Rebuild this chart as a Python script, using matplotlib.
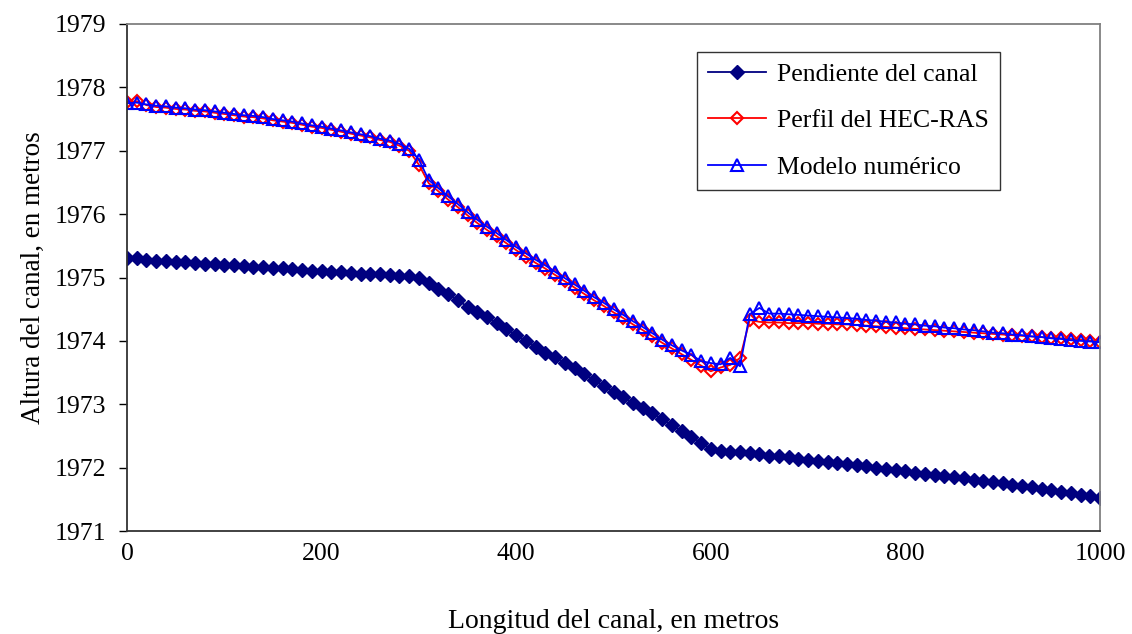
import numpy as np
import matplotlib
matplotlib.use("Agg")
import matplotlib.pyplot as plt

# Stations along the channel (m)
distancia = np.arange(0, 1001, 10)

# Channel bed elevation (m)
pendiente = [
    1975.30, 1975.31, 1975.27, 1975.26, 1975.26, 1975.24, 1975.24, 1975.23, 1975.21, 1975.21,
    1975.20, 1975.20, 1975.18, 1975.17, 1975.17, 1975.15, 1975.15, 1975.14, 1975.12, 1975.11,
    1975.10, 1975.08, 1975.08, 1975.07, 1975.06, 1975.06, 1975.05, 1975.04, 1975.03, 1975.02,
    1975.00, 1974.92, 1974.82, 1974.74, 1974.64, 1974.54, 1974.45, 1974.37, 1974.28, 1974.19,
    1974.09, 1974.00, 1973.91, 1973.81, 1973.74, 1973.65, 1973.57, 1973.48, 1973.38, 1973.29,
    1973.20, 1973.11, 1973.02, 1972.94, 1972.86, 1972.76, 1972.67, 1972.58, 1972.49, 1972.39,
    1972.30, 1972.26, 1972.25, 1972.24, 1972.23, 1972.21, 1972.19, 1972.18, 1972.16, 1972.14,
    1972.12, 1972.11, 1972.09, 1972.07, 1972.06, 1972.04, 1972.02, 1972.00, 1971.98, 1971.96,
    1971.94, 1971.92, 1971.90, 1971.88, 1971.87, 1971.85, 1971.83, 1971.81, 1971.79, 1971.77,
    1971.75, 1971.73, 1971.71, 1971.69, 1971.67, 1971.65, 1971.62, 1971.60, 1971.57, 1971.55,
    1971.52,
]

# Water surface profile from HEC-RAS (m)
hec_ras = [
    1977.77, 1977.78, 1977.72, 1977.69, 1977.68, 1977.66, 1977.65, 1977.63, 1977.62, 1977.60,
    1977.58, 1977.56, 1977.54, 1977.53, 1977.51, 1977.48, 1977.46, 1977.44, 1977.41, 1977.38,
    1977.36, 1977.33, 1977.30, 1977.27, 1977.24, 1977.21, 1977.17, 1977.14, 1977.08, 1977.00,
    1976.78, 1976.49, 1976.36, 1976.23, 1976.11, 1975.98, 1975.86, 1975.75, 1975.65, 1975.54,
    1975.43, 1975.33, 1975.23, 1975.14, 1975.04, 1974.94, 1974.84, 1974.74, 1974.64, 1974.55,
    1974.45, 1974.36, 1974.26, 1974.17, 1974.07, 1973.97, 1973.88, 1973.79, 1973.70, 1973.61,
    1973.52, 1973.58, 1973.62, 1973.73, 1974.33, 1974.30, 1974.29, 1974.29, 1974.28, 1974.28,
    1974.28, 1974.27, 1974.27, 1974.26, 1974.26, 1974.25, 1974.24, 1974.23, 1974.22, 1974.21,
    1974.20, 1974.19, 1974.18, 1974.17, 1974.16, 1974.15, 1974.14, 1974.13, 1974.12, 1974.11,
    1974.10, 1974.09, 1974.08, 1974.07, 1974.06, 1974.05, 1974.04, 1974.03, 1974.02, 1974.00,
    1973.99,
]

# Water surface from the numerical model (m)
modelo = [
    1977.75, 1977.76, 1977.73, 1977.71, 1977.70, 1977.68, 1977.67, 1977.65, 1977.64, 1977.62,
    1977.60, 1977.58, 1977.56, 1977.55, 1977.53, 1977.50, 1977.48, 1977.46, 1977.43, 1977.40,
    1977.38, 1977.35, 1977.32, 1977.29, 1977.26, 1977.23, 1977.19, 1977.16, 1977.11, 1977.03,
    1976.86, 1976.54, 1976.41, 1976.28, 1976.16, 1976.03, 1975.91, 1975.80, 1975.70, 1975.59,
    1975.48, 1975.38, 1975.28, 1975.19, 1975.09, 1974.99, 1974.89, 1974.79, 1974.69, 1974.60,
    1974.50, 1974.41, 1974.31, 1974.22, 1974.12, 1974.02, 1973.93, 1973.85, 1973.78, 1973.68,
    1973.65, 1973.63, 1973.73, 1973.60, 1974.42, 1974.52, 1974.43, 1974.43, 1974.42, 1974.41,
    1974.40, 1974.39, 1974.38, 1974.37, 1974.36, 1974.35, 1974.33, 1974.32, 1974.30, 1974.29,
    1974.27, 1974.26, 1974.24, 1974.23, 1974.21, 1974.20, 1974.18, 1974.17, 1974.15, 1974.13,
    1974.12, 1974.10, 1974.09, 1974.07, 1974.06, 1974.04, 1974.03, 1974.01, 1974.00, 1973.99,
    1973.98,
]

x_ticks = [0, 200, 400, 600, 800, 1000]
y_ticks = [1971, 1972, 1973, 1974, 1975, 1976, 1977, 1978, 1979]

plt.rcParams["font.family"] = ["Liberation Serif", "DejaVu Serif"]

fig = plt.figure(figsize=(11.32, 6.34), dpi=100)
ax = fig.add_axes([127 / 1132, 1 - 531 / 634, (1100 - 127) / 1132, (531 - 24) / 634])

ax.plot(distancia, pendiente, color="#000080", lw=1.3, marker="D", ms=6.8,
        mfc="#000080", mec="#000080", mew=1.0, label="Pendiente del canal")
ax.plot(distancia, hec_ras, color="#FF0000", lw=1.3, marker="D", ms=6.2,
        mfc="none", mec="#FF0000", mew=1.5, label="Perfil del HEC-RAS")
ax.plot(distancia, modelo, color="#0000FF", lw=1.3, marker="^", ms=9.2,
        mfc="none", mec="#0000FF", mew=1.5, label="Modelo numérico")

ax.set_xlim(0, 1000)
ax.set_ylim(1971, 1979)
ax.set_xticks(x_ticks)
ax.set_yticks(y_ticks)
ax.tick_params(axis="both", direction="out", length=6, width=1, labelsize=18.5,
               colors="black", pad=9)
ax.tick_params(axis="x", length=0, pad=9)

for side in ("left", "bottom"):
    ax.spines[side].set_color("#333333")
    ax.spines[side].set_linewidth(1.3)
for side in ("right", "top"):
    ax.spines[side].set_color("#808080")
    ax.spines[side].set_linewidth(1.3)

ax.set_xlabel("Longitud del canal, en metros", fontsize=20, labelpad=31)
ax.set_ylabel("Altura del canal, en metros", fontsize=19.5, labelpad=6)

leg = ax.legend(loc="upper left", bbox_to_anchor=(697 / 1132, 1 - 52 / 634),
                bbox_transform=fig.transFigure, fontsize=18.5, frameon=True,
                fancybox=False, borderaxespad=0, handlelength=2.25,
                labelspacing=0.92, borderpad=0.42, handletextpad=0.45)
leg.get_frame().set_edgecolor("black")
leg.get_frame().set_linewidth(1.0)

fig.savefig("out.png", dpi=100)
